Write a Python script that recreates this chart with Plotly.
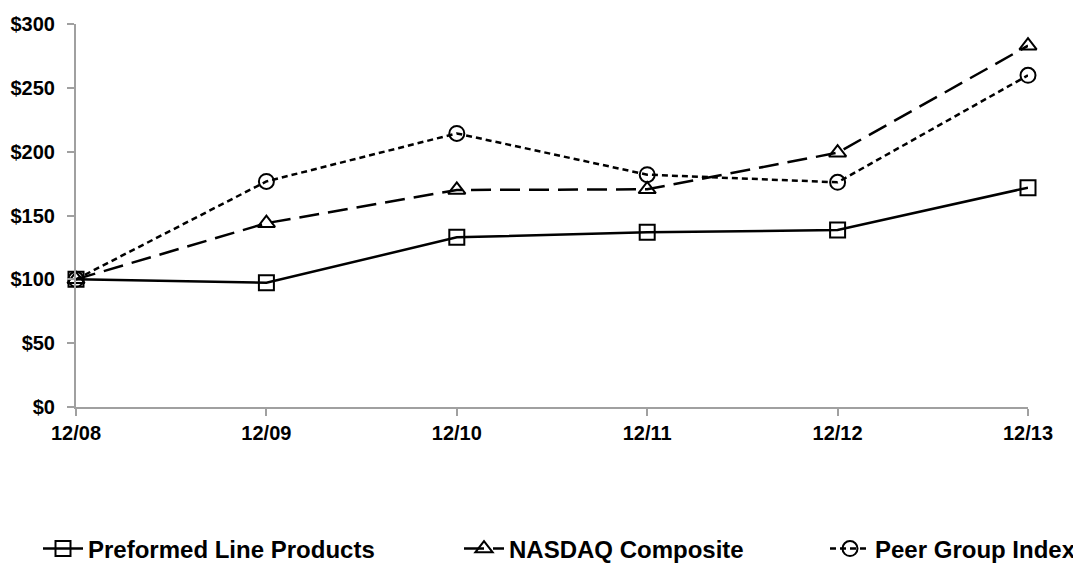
import plotly.graph_objects as go

periods = ["12/08", "12/09", "12/10", "12/11", "12/12", "12/13"]
plp = [100, 97.3, 132.9, 136.8, 138.6, 171.8]
nasdaq = [100, 144.0, 170.0, 170.5, 199.2, 283.0]
peer = [100, 176.7, 214.3, 182.0, 176.0, 259.8]
y_ticks = [0, 50, 100, 150, 200, 250, 300]
y_ticktext = ["$0", "$50", "$100", "$150", "$200", "$250", "$300"]

FONT = "Liberation Sans, Arial, sans-serif"
W, H = 1073, 555
xs = list(range(len(periods)))

fig = go.Figure()
fig.add_trace(go.Scatter(
    x=xs, y=plp, name="Preformed Line Products", mode="lines+markers",
    line=dict(color="black", width=2.5),
    marker=dict(symbol="square-open", size=15, color="black", line=dict(width=2, color="black")),
    cliponaxis=False, legend="legend", showlegend=True))
fig.add_trace(go.Scatter(
    x=xs, y=nasdaq, name="NASDAQ Composite", mode="lines+markers",
    line=dict(color="black", width=2.5, dash="20px,9px"),
    marker=dict(symbol="triangle-up-open", size=15, color="black", line=dict(width=2, color="black")),
    cliponaxis=False, legend="legend2", showlegend=True))
fig.add_trace(go.Scatter(
    x=xs, y=peer, name="Peer Group Index", mode="lines+markers",
    line=dict(color="black", width=2.5, dash="6px,4px"),
    marker=dict(symbol="circle-open", size=15, color="black", line=dict(width=2, color="black")),
    cliponaxis=False, legend="legend3", showlegend=True))

leg_common = dict(orientation="h", xref="container", yref="container",
                  yanchor="middle", y=14/H, bgcolor="rgba(0,0,0,0)",
                  font=dict(family=FONT, size=24, color="black", weight="bold"),
                  itemwidth=40, tracegroupgap=0)

fig.update_layout(
    width=W, height=H, autosize=False, showlegend=True,
    margin=dict(l=68, r=53, t=16, b=156, autoexpand=False),
    paper_bgcolor="white", plot_bgcolor="white",
    font=dict(family=FONT, size=20, color="black", weight="bold"),
    legend=dict(x=30/W, xanchor="left", **leg_common),
    legend2=dict(x=451/W, xanchor="left", **leg_common),
    legend3=dict(x=1.0, xanchor="right", **leg_common),
    xaxis=dict(range=[0, 5], tickmode="array", tickvals=xs, ticktext=periods,
               automargin=False,
               showgrid=False, zeroline=False, showline=True, linecolor="#A0A0A0",
               linewidth=2, ticks="outside", ticklen=7, tickwidth=2, tickcolor="#A0A0A0",
               tickfont=dict(family=FONT, size=20, color="black", weight="bold")),
    yaxis=dict(range=[0, 300], tickmode="array", tickvals=y_ticks, ticktext=y_ticktext,
               automargin=False,
               showgrid=False, zeroline=False, showline=True, linecolor="#A0A0A0",
               linewidth=2, ticks="outside", ticklen=7, tickwidth=2, tickcolor="#A0A0A0",
               ticklabelstandoff=8,
               tickfont=dict(family=FONT, size=20, color="black", weight="bold")),
)

fig.write_html("out.html")
